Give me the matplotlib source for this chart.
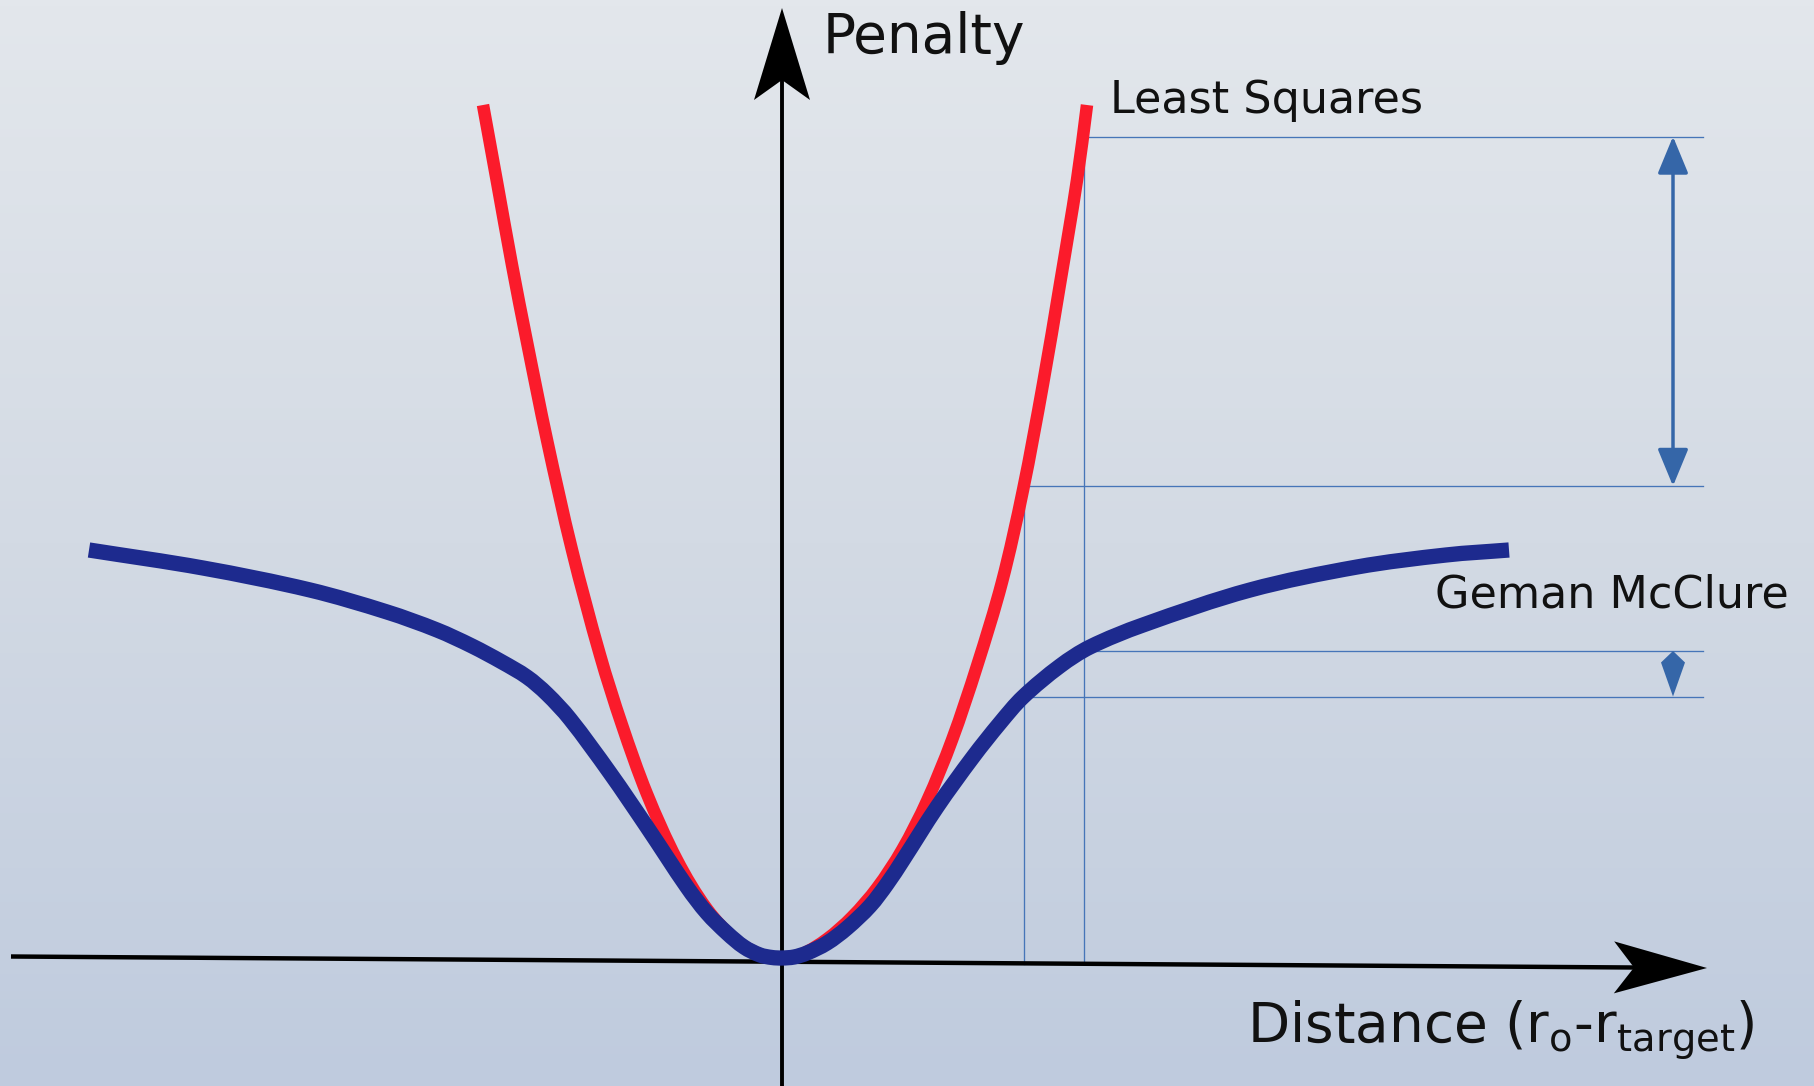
import numpy as np
import matplotlib
matplotlib.use("Agg")
import matplotlib.pyplot as plt
from matplotlib.colors import LinearSegmentedColormap
from matplotlib.patches import Polygon, FancyArrowPatch, PathPatch
from matplotlib.path import Path

# ---------------- data ----------------
# Least Squares penalty curve (distance, penalty)
ls_x = [-2.99, -2.85, -2.70, -2.55, -2.35, -2.10, -1.82, -1.60, -1.35, -1.05, -0.75, -0.45, -0.20, 0.0,
        0.20, 0.45, 0.70, 0.95, 1.20, 1.45, 1.70, 1.95, 2.20, 2.41, 2.61, 2.78, 2.95, 3.05]
ls_y = [8.53, 7.76, 6.93, 6.16, 5.18, 4.08, 3.03, 2.33, 1.64, 0.98, 0.49, 0.17, 0.03, 0.0,
        0.04, 0.19, 0.41, 0.70, 1.08, 1.57, 2.18, 2.92, 3.76, 4.68, 5.74, 6.74, 7.78, 8.53]

# Geman McClure penalty curve (distance, penalty)
gm_x = [-6.93, -5.79, -4.72, -3.95, -3.45, -3.10, -2.80, -2.55, -2.35, -2.12, -1.72, -1.35, -0.95,
        -0.75, -0.55, -0.38, -0.22, -0.10, 0.0,
        0.12, 0.25, 0.45, 0.65, 0.88, 1.05, 1.21, 1.55, 1.91, 2.18, 2.41, 2.78, 3.08, 3.61, 4.68,
        5.75, 6.64, 7.27]
gm_y = [4.08, 3.90, 3.68, 3.46, 3.28, 3.12, 2.96, 2.81, 2.64, 2.39, 1.85, 1.31, 0.71,
        0.45, 0.25, 0.11, 0.03, 0.005, 0.0,
        0.01, 0.05, 0.15, 0.30, 0.52, 0.74, 0.98, 1.51, 2.01, 2.35, 2.61, 2.92, 3.11, 3.33, 3.68,
        3.91, 4.03, 4.08]

# comparison markers: distances and penalties of both curves there
guide_x = [2.42, 3.02]
ls_at_guide = [4.72, 8.215]
gm_at_guide = [2.615, 3.07]
guide_right = 9.21      # right end of the horizontal guide lines
arrow_x = 8.91          # position of the difference arrows

labels = {"ls": "Least Squares", "gm": "Geman McClure",
          "y": "Penalty", "x": r"Distance (r$_\mathregular{o}$-r$_\mathregular{target}$)"}


def smooth_path(xs, ys):
    """Cubic Bezier path passing through every read point (chord-length Catmull-Rom)."""
    P = np.column_stack([xs, ys]).astype(float)
    t = np.concatenate([[0], np.cumsum(np.hypot(*np.diff(P, axis=0).T))])
    m = np.zeros_like(P)
    m[0] = (P[1] - P[0]) / (t[1] - t[0])
    m[-1] = (P[-1] - P[-2]) / (t[-1] - t[-2])
    for i in range(1, len(P) - 1):
        m[i] = (P[i + 1] - P[i - 1]) / (t[i + 1] - t[i - 1])
    verts = [P[0]]
    codes = [Path.MOVETO]
    for i in range(len(P) - 1):
        h = t[i + 1] - t[i]
        verts += [P[i] + m[i] * h / 3, P[i + 1] - m[i + 1] * h / 3, P[i + 1]]
        codes += [Path.CURVE4] * 3
    return Path(verts, codes)


# ---------------- figure ----------------
W, H = 1814, 1086
fig = plt.figure(figsize=(W / 100, H / 100), dpi=100)
ax = fig.add_axes([0, 0, 1, 1])
xlim = (-7.82, 10.32)
ylim = (-1.28, 9.58)
ax.set_xlim(*xlim)
ax.set_ylim(*ylim)
ax.axis("off")

# background gradient
cmap = LinearSegmentedColormap.from_list("bg", ["#e3e7ec", "#d3dae4", "#bfcbde"])
ax.imshow(np.linspace(0, 1, 256).reshape(-1, 1), extent=[xlim[0], xlim[1], ylim[0], ylim[1]],
          cmap=cmap, aspect="auto", origin="upper", zorder=0, interpolation="bicubic")

guide_c = "#4675b8"
arrow_c = "#3566a8"
for gx, ly in zip(guide_x, ls_at_guide):
    ax.plot([gx, gx], [-0.06, ly], color=guide_c, lw=0.95, zorder=2)
for gx, ly, gy in zip(guide_x, ls_at_guide, gm_at_guide):
    ax.plot([gx, guide_right], [ly, ly], color=guide_c, lw=0.95, zorder=2)
    ax.plot([gx, guide_right], [gy, gy], color=guide_c, lw=0.95, zorder=2)

# difference arrow for least squares
ax.add_patch(FancyArrowPatch((arrow_x, ls_at_guide[1]), (arrow_x, ls_at_guide[0]),
                             arrowstyle="<|-|>,head_length=23,head_width=9.5",
                             mutation_scale=1, shrinkA=0, shrinkB=0,
                             color=arrow_c, lw=2.5, zorder=3))
# difference arrow for Geman McClure (too short: the two heads merge)
hw = 0.12
g_top, g_bot = gm_at_guide[1], gm_at_guide[0]
g_mid = g_top - 0.115
ax.add_patch(Polygon([(arrow_x, g_top), (arrow_x + hw, g_mid), (arrow_x, g_bot),
                      (arrow_x - hw, g_mid)], closed=True, color=arrow_c, lw=0, zorder=3))

# coordinate axes
ax_c = "black"
ax.plot([0, 0], [ylim[0], 8.8], color=ax_c, lw=2.8, zorder=4, solid_capstyle="butt")
ax.add_patch(Polygon([(0, 9.50), (-0.28, 8.58), (0, 8.78), (0.28, 8.58)],
                     closed=True, color=ax_c, zorder=4, lw=0))
start = np.array([-7.71, 0.015])
tip = np.array([9.25, -0.10])
u = (tip - start) / np.linalg.norm(tip - start)
n = np.array([-u[1], u[0]])
notch = tip - 0.73 * u
ax.plot([start[0], notch[0]], [start[1], notch[1]], color=ax_c, lw=3.2, zorder=4,
        solid_capstyle="butt")
c1 = tip - 0.93 * u + 0.26 * n
c2 = tip - 0.93 * u - 0.26 * n
ax.add_patch(Polygon([tuple(tip), tuple(c1), tuple(notch), tuple(c2)],
                     closed=True, color=ax_c, zorder=4, lw=0))

# curves
ax.add_patch(PathPatch(smooth_path(ls_x, ls_y), fill=False, edgecolor="#fb1b2b", lw=9.0,
                       capstyle="butt", joinstyle="round", zorder=5))
ax.add_patch(PathPatch(smooth_path(gm_x, gm_y), fill=False, edgecolor="#1d2a8e", lw=11.0,
                       capstyle="butt", joinstyle="round", zorder=6))

# texts
tc = "#111111"
ax.text(0.41, 9.05, labels["y"], fontsize=39.5, color=tc, ha="left", va="baseline",
        family="DejaVu Sans")
ax.text(3.28, 8.45, labels["ls"], fontsize=32, color=tc, ha="left", va="baseline",
        family="DejaVu Sans")
ax.text(6.53, 3.51, labels["gm"], fontsize=32, color=tc, ha="left", va="baseline",
        family="DejaVu Sans")
ax.text(4.65, -0.84, labels["x"], fontsize=39.5, color=tc, ha="left", va="baseline",
        family="DejaVu Sans")

fig.savefig("out.png", dpi=100)
